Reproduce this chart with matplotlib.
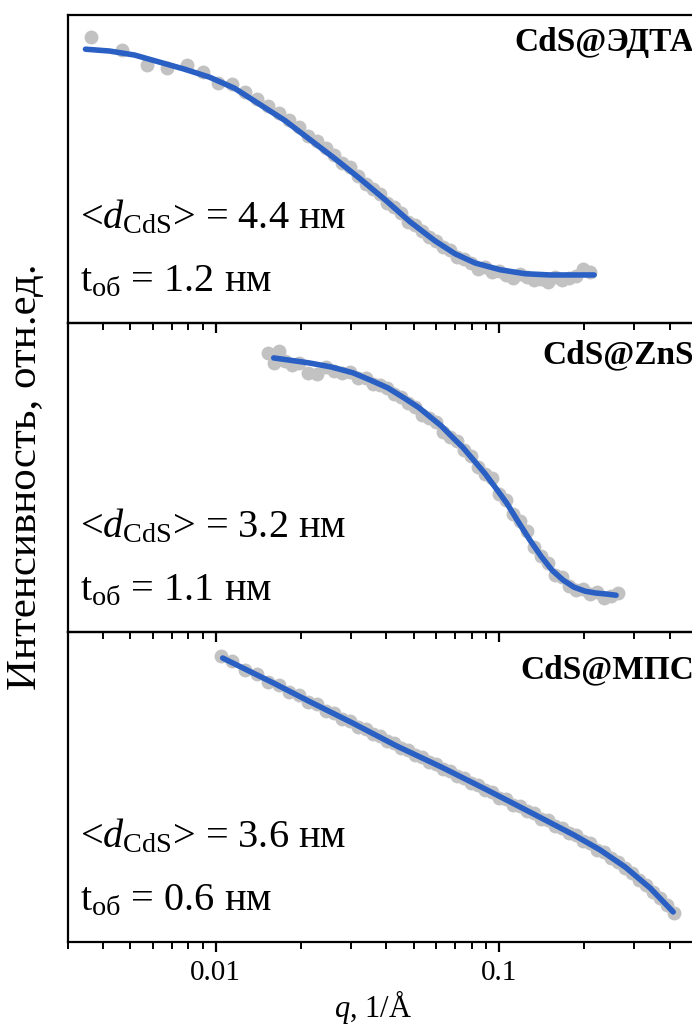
import numpy as np
import matplotlib
matplotlib.use("Agg")
import matplotlib.pyplot as plt
from matplotlib.ticker import NullFormatter

plt.rcParams['font.family'] = ['Liberation Serif', 'DejaVu Serif']
plt.rcParams['mathtext.fontset'] = 'custom'
plt.rcParams['mathtext.rm'] = 'Liberation Serif'
plt.rcParams['mathtext.it'] = 'Liberation Serif:italic'
plt.rcParams['mathtext.bf'] = 'Liberation Serif:bold'

# ---- CdS@ЭДТА ----
q1_data = [0.003645, 0.004653, 0.005704, 0.006711, 0.0079, 0.009, 0.01016, 0.01139, 0.01266,
           0.01396, 0.01527, 0.0167, 0.01811, 0.01965, 0.02114, 0.02275, 0.02447, 0.02612,
           0.02788, 0.02975, 0.03176, 0.03388, 0.03587, 0.03798, 0.0402, 0.04256, 0.04506,
           0.04769, 0.05049, 0.05344, 0.05658, 0.05989, 0.0634, 0.06712, 0.07105, 0.07521,
           0.07962, 0.0843, 0.08922, 0.09447, 0.1, 0.1059, 0.1121, 0.1186, 0.1256, 0.133,
           0.1408, 0.149, 0.1578, 0.167, 0.1768, 0.1872, 0.1981, 0.2098]
I1_data = [0.928, 0.886, 0.837, 0.827, 0.837, 0.814, 0.779, 0.775, 0.749,
           0.726, 0.704, 0.681, 0.658, 0.635, 0.606, 0.59, 0.567, 0.544,
           0.521, 0.505, 0.476, 0.45, 0.436, 0.42, 0.388, 0.378, 0.358,
           0.329, 0.319, 0.3, 0.28, 0.267, 0.248, 0.238, 0.215, 0.208,
           0.195, 0.176, 0.182, 0.166, 0.169, 0.156, 0.147, 0.16, 0.15, 0.14,
           0.143, 0.134, 0.15, 0.14, 0.147, 0.153, 0.176, 0.166]
q1_fit = [0.003472, 0.004221, 0.005172, 0.00634, 0.007771, 0.009524, 0.01167, 0.0143, 0.01753,
          0.02149, 0.02634, 0.03227, 0.03956, 0.04847, 0.0594, 0.0699, 0.08226, 0.1008,
          0.1235, 0.1514, 0.1856, 0.2167]
I1_fit = [0.889, 0.883, 0.87, 0.847, 0.824, 0.798, 0.762, 0.71, 0.658,
          0.596, 0.534, 0.469, 0.401, 0.329, 0.267, 0.225, 0.195, 0.173,
          0.16, 0.156, 0.156, 0.156]

# ---- CdS@ZnS ----
q2_data = [0.01527, 0.01603, 0.0167, 0.01753, 0.01856, 0.01965, 0.02114, 0.02275, 0.02447,
           0.02612, 0.02788, 0.02975, 0.03176, 0.03388, 0.03587, 0.03798, 0.0402, 0.04256,
           0.04506, 0.04769, 0.05049, 0.05344, 0.05658, 0.05989, 0.0634, 0.06712, 0.07105,
           0.07521, 0.07962, 0.0843, 0.08922, 0.09447, 0.1, 0.1059, 0.1121, 0.1186, 0.1256,
           0.133, 0.1408, 0.149, 0.1578, 0.167, 0.1768, 0.1872, 0.1981, 0.2098, 0.222,
           0.235, 0.2488, 0.2634]
I2_data = [0.903, 0.871, 0.91, 0.877, 0.865, 0.871, 0.839, 0.835, 0.858,
           0.845, 0.839, 0.842, 0.823, 0.823, 0.803, 0.8, 0.79, 0.771,
           0.761, 0.742, 0.729, 0.703, 0.694, 0.681, 0.648, 0.632, 0.619,
           0.59, 0.571, 0.535, 0.51, 0.497, 0.445, 0.426, 0.381, 0.358, 0.326,
           0.274, 0.245, 0.223, 0.184, 0.177, 0.148, 0.135, 0.139, 0.123, 0.129,
           0.11, 0.116, 0.126]
q2_fit = [0.01603, 0.02131, 0.02549, 0.03049, 0.03501, 0.04053, 0.04616, 0.05216, 0.05704,
          0.06239, 0.06823, 0.07462, 0.0816, 0.08922, 0.09759, 0.1067, 0.1167, 0.1287,
          0.1408, 0.154, 0.1684, 0.1841, 0.2014, 0.2202, 0.2388, 0.259]
I2_fit = [0.887, 0.871, 0.858, 0.839, 0.816, 0.79, 0.758, 0.726, 0.697,
          0.668, 0.632, 0.597, 0.555, 0.513, 0.465, 0.416, 0.358, 0.297,
          0.245, 0.2, 0.168, 0.145, 0.132, 0.126, 0.123, 0.119]

# ---- CdS@МПС ----
q3_data = [0.01041, 0.01139, 0.01266, 0.01396, 0.01527, 0.0167, 0.01811, 0.01965, 0.02114,
           0.02275, 0.02447, 0.02612, 0.02788, 0.02975, 0.03176, 0.03388, 0.03587, 0.03798,
           0.0402, 0.04256, 0.04506, 0.04769, 0.05049, 0.05344, 0.05658, 0.05989, 0.0634,
           0.06712, 0.07105, 0.07521, 0.07962, 0.0843, 0.08922, 0.09447, 0.1, 0.1059, 0.1121,
           0.1186, 0.1256, 0.133, 0.1408, 0.149, 0.1578, 0.167, 0.1768, 0.1872, 0.1981,
           0.2098, 0.222, 0.235, 0.2488, 0.2634, 0.2788, 0.2951, 0.3124, 0.3307, 0.3501,
           0.3706, 0.3923, 0.4153]
I3_data = [0.922, 0.905, 0.876, 0.865, 0.84, 0.829, 0.806, 0.797, 0.775,
           0.768, 0.746, 0.739, 0.72, 0.714, 0.694, 0.688, 0.67, 0.665,
           0.648, 0.642, 0.625, 0.619, 0.602, 0.597, 0.58, 0.574, 0.557,
           0.551, 0.534, 0.529, 0.512, 0.506, 0.489, 0.484, 0.466, 0.461, 0.443,
           0.438, 0.421, 0.416, 0.398, 0.393, 0.375, 0.369, 0.352, 0.345, 0.326,
           0.318, 0.297, 0.29, 0.27, 0.259, 0.24, 0.222, 0.2, 0.184, 0.162,
           0.142, 0.118, 0.094]
q3_fit = [0.01059, 0.01603, 0.02131, 0.03049, 0.04362, 0.06239, 0.08922, 0.1287, 0.1841,
          0.2275, 0.2788, 0.3418, 0.412]
I3_fit = [0.916, 0.835, 0.777, 0.706, 0.632, 0.565, 0.494, 0.419, 0.345,
          0.297, 0.242, 0.174, 0.097]

names = ['CdS@ЭДТА', 'CdS@ZnS', 'CdS@МПС']
d_cds = ['4.4', '3.2', '3.6']
t_shell = ['1.2', '1.1', '0.6']

W, H = 692, 1028
fig = plt.figure(figsize=(W / 100, H / 100), dpi=100)

panels = [(q1_data, I1_data, q1_fit, I1_fit),
          (q2_data, I2_data, q2_fit, I2_fit),
          (q3_data, I3_data, q3_fit, I3_fit)]
edges = [15, 323, 632, 942]
name_y = [43, 355, 670]

for i, (qd, Id, qf, If) in enumerate(panels):
    top, bot = edges[i], edges[i + 1]
    ax = fig.add_axes([67.5 / W, 1 - bot / H, (697 - 67.5) / W, (bot - top) / H])
    ax.set_facecolor('none')
    ax.plot(qd, Id, 'o', color='#c2c2c2', ms=10, mec='none', zorder=1)
    ax.plot(qf, If, '-', color='#2a60c4', lw=4, solid_capstyle='round', zorder=2)
    ax.set_xscale('log')
    ax.set_xlim(0.003, 0.5)
    ax.set_ylim(0, 1)
    ax.set_yticks([])
    for s in ax.spines.values():
        s.set_linewidth(1.6)
    ax.tick_params(axis='x', which='major', direction='out', length=7.5, width=1.6,
                   labelsize=21, pad=5.5)
    ax.tick_params(axis='x', which='minor', direction='out', length=5, width=1.4)
    ax.xaxis.set_minor_formatter(NullFormatter())
    if i < 2:
        ax.tick_params(axis='x', labelbottom=False)
    else:
        ax.set_xticks([0.01, 0.1], ['0.01', '0.1'])

    fig.text(694 / W, 1 - name_y[i] / H, names[i], ha='right', va='center',
             fontsize=24, fontweight='bold')
    fig.text(80 / W, 1 - (bot - 95) / H,
             '<$d_{\\mathrm{CdS}}$> = ' + d_cds[i] + ' нм',
             ha='left', va='baseline', fontsize=29)
    fig.text(80 / W, 1 - (bot - 32) / H,
             't$_{\\mathrm{об}}$ = ' + t_shell[i] + ' нм',
             ha='left', va='baseline', fontsize=29)

fig.text(26 / W, 1 - 477 / H, 'Интенсивность, отн.ед.', rotation=90,
         ha='center', va='center', fontsize=31)
fig.text(373 / W, 1 - 1017 / H, '$q$, 1/Å', ha='center', va='baseline', fontsize=22)

fig.savefig('out.png', dpi=100)
